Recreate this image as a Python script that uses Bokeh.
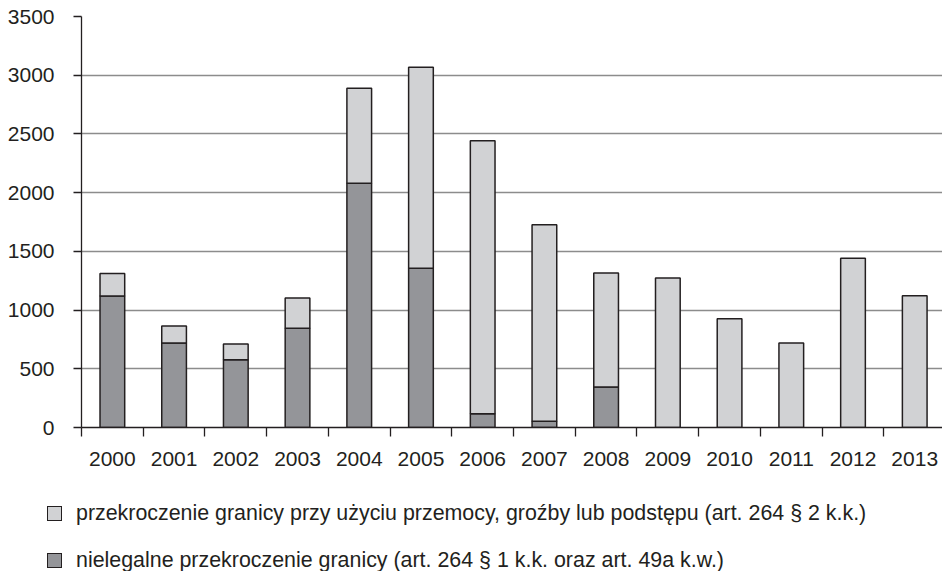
from bokeh.plotting import figure
from bokeh.layouts import column
from bokeh.models import FixedTicker, Range1d, ColumnDataSource, Div
from bokeh.embed import file_html
from bokeh.resources import INLINE

years = ["2000", "2001", "2002", "2003", "2004", "2005", "2006",
         "2007", "2008", "2009", "2010", "2011", "2012", "2013"]
# nielegalne przekroczenie granicy (dark)
illegal = [1120, 719, 577, 845, 2079, 1356, 117, 54, 344, 0, 0, 0, 0, 0]
# total height of stacked bar
totals = [1311, 864, 711, 1103, 2889, 3068, 2442, 1726, 1316, 1274, 927, 719, 1442, 1123]
violent = [t - i for t, i in zip(totals, illegal)]

label_violent = "przekroczenie granicy przy użyciu przemocy, groźby lub podstępu (art. 264 § 2 k.k.)"
label_illegal = "nielegalne przekroczenie granicy (art. 264 § 1 k.k. oraz art. 49a k.w.)"

FONT = "Liberation Sans"
DARK = "#949599"
LIGHT = "#d1d2d4"
EDGE = "#231f20"

centers = [i + 0.5 for i in range(len(years))]
bounds = [float(i) for i in range(len(years) + 1)]

src = ColumnDataSource(dict(x=centers, illegal=illegal, violent=violent))

p = figure(width=942, height=480, output_backend="svg", toolbar_location=None,
           x_range=Range1d(0, 13.95), y_range=Range1d(0, 3500),
           min_border_left=81, min_border_top=16, min_border_right=0, min_border_bottom=53)
p.outline_line_color = None

r = p.vbar_stack(["illegal", "violent"], x="x", width=0.4, source=src,
                 fill_color=[DARK, LIGHT], line_color=EDGE, line_width=1.5)

p.xgrid.grid_line_color = None
p.ygrid.grid_line_color = "#8c8c8c"
p.ygrid.grid_line_width = 1.3

yax = p.yaxis[0]
yax.ticker = FixedTicker(ticks=list(range(0, 3501, 500)))
yax.axis_line_color = EDGE
yax.axis_line_width = 1.3
yax.major_tick_line_color = EDGE
yax.major_tick_line_width = 1.3
yax.major_tick_out = 8
yax.major_tick_in = 0
yax.minor_tick_line_color = None
yax.major_label_standoff = 19
yax.major_label_text_font = FONT
yax.major_label_text_font_size = "21px"
yax.major_label_text_color = "#231f20"

xax = p.xaxis[0]
xax.ticker = FixedTicker(ticks=centers, minor_ticks=bounds)
xax.major_label_overrides = {c: y for c, y in zip(centers, years)}
xax.axis_line_color = EDGE
xax.axis_line_width = 1.3
xax.major_tick_line_color = None
xax.minor_tick_line_color = EDGE
xax.minor_tick_line_width = 1.3
xax.minor_tick_out = 9
xax.minor_tick_in = 0
xax.major_label_standoff = 15
xax.major_label_text_font = FONT
xax.major_label_text_font_size = "21px"
xax.major_label_text_color = "#231f20"


def legend_row(color, label, top_gap):
    return (
        f'<div style="display:flex;align-items:center;height:24px;'
        f'margin:{top_gap}px 0 0 47px;">'
        f'<span style="flex:none;box-sizing:border-box;width:15px;height:15px;'
        f'background:{color};border:1.5px solid {EDGE};"></span>'
        f'<span style="margin-left:14px;white-space:nowrap;">{label}</span></div>'
    )


legend_html = (
    f'<div style="font-family:\'{FONT}\',Arial,sans-serif;font-size:21.4px;'
    f'color:#231f20;line-height:24px;margin:0;padding:0;">'
    + legend_row(LIGHT, label_violent, 21)
    + legend_row(DARK, label_illegal, 23)
    + '</div>'
)

legend_div = Div(text=legend_html, width=942, height=91,
                 styles={"margin": "0", "padding": "0"})

layout = column(p, legend_div, spacing=0)
open("out.html", "w").write(file_html(layout, INLINE))
